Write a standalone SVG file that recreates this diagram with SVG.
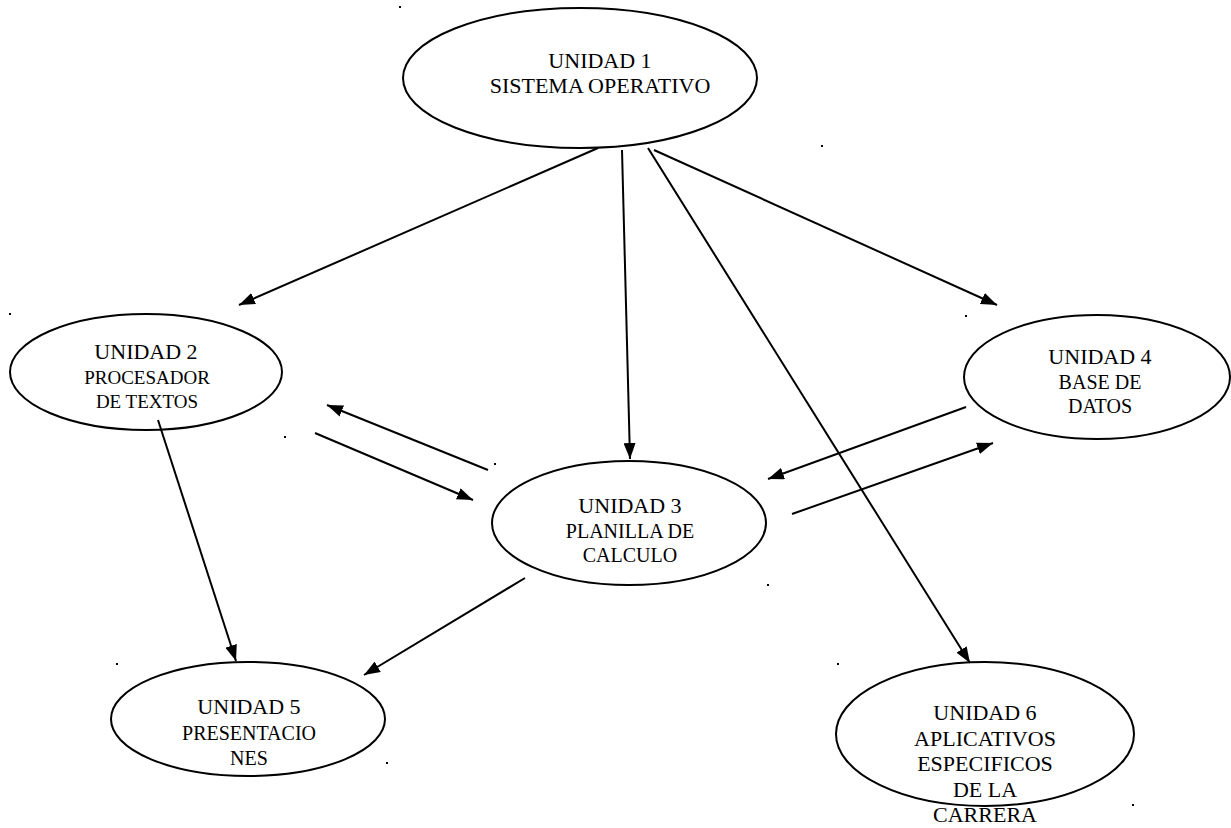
<svg xmlns="http://www.w3.org/2000/svg" width="1231" height="828" viewBox="0 0 1231 828">
<defs>
<style>
.node ellipse{fill:#fff;stroke:#000;stroke-width:2}
text{font-family:"Liberation Serif","Times New Roman",serif;fill:#000;text-anchor:middle}
.t1{font-size:22px}
.t2{font-size:20px}
.t3{font-size:19px}
.conn line{stroke:#000;stroke-width:2;marker-end:url(#ah)}
.dot{fill:#000}
</style>
<marker id="ah" viewBox="0 0 16 12" refX="16" refY="6" markerWidth="16" markerHeight="12" markerUnits="userSpaceOnUse" orient="auto">
<path d="M0,0 L16,6 L0,12 Z" fill="#000"/>
</marker>
</defs>
<rect width="1231" height="828" fill="#fff"/>
<g id="n1" class="node">
<ellipse cx="580" cy="78" rx="177" ry="70"/>
<text class="t1" x="600" y="68">UNIDAD 1</text>
<text class="t1" x="600" y="93">SISTEMA OPERATIVO</text>
</g>
<g id="n2" class="node">
<ellipse cx="146" cy="372" rx="136" ry="58"/>
<text class="t1" x="146" y="359">UNIDAD 2</text>
<text class="t3" x="147" y="384">PROCESADOR</text>
<text class="t3" x="147" y="408">DE TEXTOS</text>
</g>
<g id="n3" class="node">
<ellipse cx="629" cy="523" rx="137" ry="62"/>
<text class="t1" x="630" y="513">UNIDAD 3</text>
<text class="t2" x="630" y="538">PLANILLA DE</text>
<text class="t2" x="630" y="562">CALCULO</text>
</g>
<g id="n4" class="node">
<ellipse cx="1097" cy="377" rx="133" ry="62"/>
<text class="t1" x="1100" y="364">UNIDAD 4</text>
<text class="t2" x="1100" y="389">BASE DE</text>
<text class="t2" x="1100" y="413">DATOS</text>
</g>
<g id="n5" class="node">
<ellipse cx="248" cy="719" rx="137" ry="57"/>
<text class="t1" x="249" y="714">UNIDAD 5</text>
<text class="t2" x="249" y="740">PRESENTACIO</text>
<text class="t2" x="249" y="765">NES</text>
</g>
<g id="n6" class="node">
<ellipse cx="985" cy="734" rx="149" ry="72"/>
<text class="t1" x="985" y="720">UNIDAD 6</text>
<text class="t1" x="985" y="746">APLICATIVOS</text>
<text class="t1" x="985" y="771">ESPECIFICOS</text>
<text class="t1" x="985" y="797">DE LA</text>
<text class="t1" x="985" y="822">CARRERA</text>
</g>
<g id="connectors" class="conn">
<line x1="598" y1="148" x2="239" y2="305"/>
<line x1="622" y1="150" x2="630" y2="459"/>
<line x1="648" y1="148" x2="970" y2="663"/>
<line x1="654" y1="150" x2="997" y2="305"/>
<line x1="488" y1="470" x2="327" y2="405"/>
<line x1="315" y1="433" x2="473" y2="500"/>
<line x1="966" y1="407" x2="768" y2="479"/>
<line x1="792" y1="514" x2="993" y2="443"/>
<line x1="158" y1="420" x2="236" y2="661"/>
<line x1="525" y1="578" x2="364" y2="675"/>
</g>
<g id="dots" class="dot">
<rect x="399" y="6" width="2" height="2"/>
<rect x="821" y="145" width="2" height="2"/>
<rect x="9" y="313" width="2" height="2"/>
<rect x="284" y="436" width="2" height="2"/>
<rect x="494" y="463" width="2" height="2"/>
<rect x="767" y="584" width="2" height="2"/>
<rect x="965" y="315" width="2" height="2"/>
<rect x="116" y="663" width="2" height="2"/>
<rect x="837" y="663" width="2" height="2"/>
<rect x="386" y="762" width="2" height="2"/>
<rect x="1132" y="804" width="2" height="2"/>
</g>
</svg>
